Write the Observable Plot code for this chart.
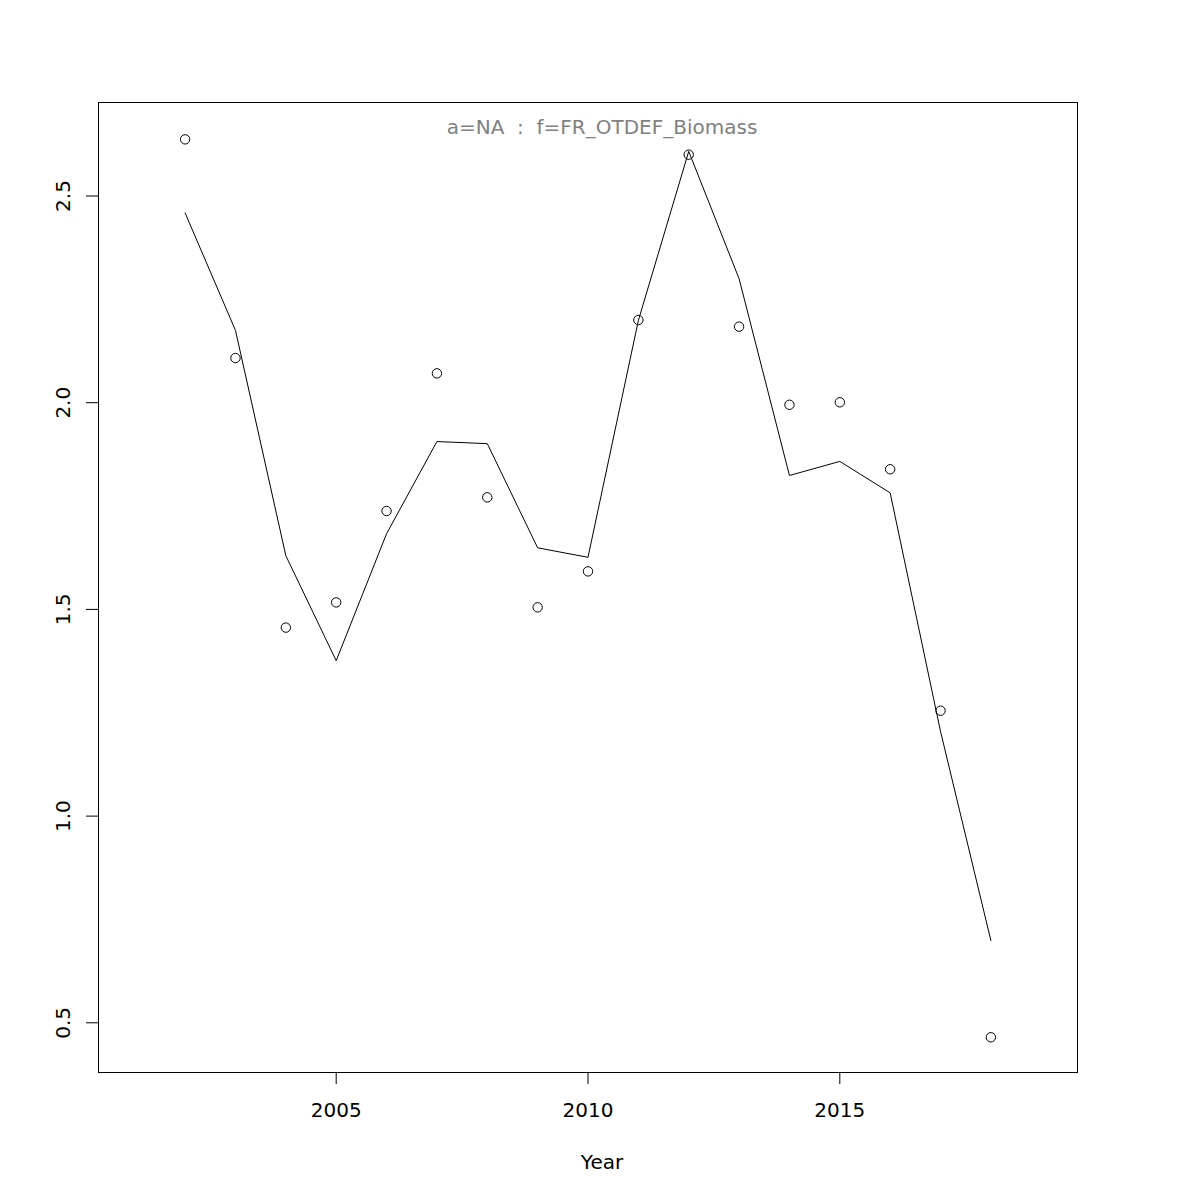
<!DOCTYPE html>
<html>
<head>
<meta charset="utf-8">
<script src="https://cdn.jsdelivr.net/npm/d3@7"></script>
<script src="https://cdn.jsdelivr.net/npm/@observablehq/plot@0.6"></script>
<style>
  html, body { margin: 0; padding: 0; background: #fff; overflow: hidden; }
  svg text { white-space: pre; }
</style>
</head>
<body>
<div id="chart"></div>
<script>
// ---- data ----
const years    = [2002, 2003, 2004, 2005, 2006, 2007, 2008, 2009, 2010, 2011, 2012, 2013, 2014, 2015, 2016, 2017, 2018];
const observed = [2.637, 2.108, 1.456, 1.517, 1.738, 2.071, 1.771, 1.505, 1.592, 2.200, 2.600, 2.184, 1.995, 2.001, 1.839, 1.255, 0.465];
const fitted   = [2.459, 2.175, 1.630, 1.376, 1.683, 1.906, 1.901, 1.649, 1.626, 2.199, 2.608, 2.300, 1.824, 1.858, 1.782, 1.205, 0.699];
const xTicks = [2005, 2010, 2015];
const yTicks = [0.5, 1.0, 1.5, 2.0, 2.5];
const xDomain = [2000.28, 2019.72];
const yDomain = [0.3798, 2.7262];
const titleText = "a=NA  :  f=FR_OTDEF_Biomass";
const xLabel = "Year";

const obsData = years.map((y, i) => ({year: y, value: observed[i]}));
const fitData = years.map((y, i) => ({year: y, value: fitted[i]}));

const fontSize = 20;

const chart = Plot.plot({
  width: 1200,
  height: 1200,
  marginLeft: 98,
  marginRight: 123,
  marginTop: 102,
  marginBottom: 128,
  style: {fontFamily: "'DejaVu Sans', sans-serif", fontSize: fontSize + "px", background: "#fff", color: "#000"},
  x: {type: "linear", domain: xDomain},
  y: {type: "linear", domain: yDomain},
  marks: [
    Plot.frame({stroke: "#000", strokeWidth: 1}),
    // axis lines spanning first to last tick (R style)
    Plot.ruleY([yDomain[0]], {x1: xTicks[0], x2: xTicks[xTicks.length - 1], stroke: "#000", strokeWidth: 1}),
    Plot.ruleX([xDomain[0]], {y1: yTicks[0], y2: yTicks[yTicks.length - 1], stroke: "#000", strokeWidth: 1}),
    Plot.axisX({ticks: xTicks, tickSize: 12, tickPadding: 18, tickFormat: d => String(d), label: null, fontSize: fontSize}),
    Plot.axisY({ticks: yTicks, tickSize: 12, tickFormat: () => "", label: null}),
    Plot.text(yTicks, {
      y: d => d, frameAnchor: "left", dx: -35, rotate: -90,
      text: d => d3.format(".1f")(d), textAnchor: "middle", lineAnchor: "middle",
      fontSize: fontSize, fill: "#000"
    }),
    Plot.text([xLabel], {
      frameAnchor: "bottom", dx: 14, dy: 90, text: d => d,
      textAnchor: "middle", lineAnchor: "middle", fontSize: fontSize, fill: "#000"
    }),
    Plot.text([titleText], {
      frameAnchor: "top", dx: 14, dy: 25, text: d => d,
      textAnchor: "middle", lineAnchor: "middle", fontSize: fontSize, fill: "#808080"
    }),
    Plot.line(fitData, {x: "year", y: "value", stroke: "#000", strokeWidth: 1}),
    Plot.dot(obsData, {x: "year", y: "value", r: 4.7, stroke: "#000", fill: "none", strokeWidth: 1})
  ]
});

document.getElementById("chart").appendChild(chart);
</script>
</body>
</html>
